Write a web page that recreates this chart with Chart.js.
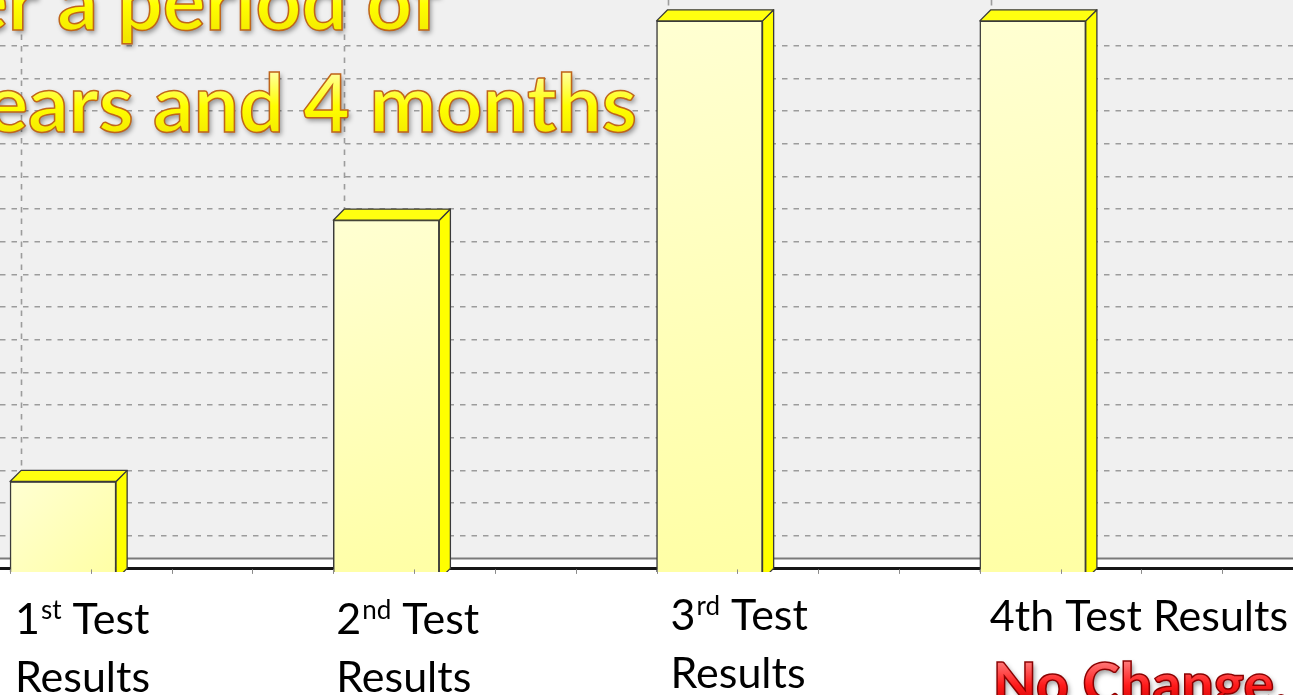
<!DOCTYPE html>
<html>
<head>
<meta charset="utf-8">
<title>Test Results</title>
<script src="https://cdn.jsdelivr.net/npm/chart.js@4.4.1/dist/chart.umd.min.js"></script>
<style>
  html, body { margin: 0; padding: 0; background: #fff; overflow: hidden; }
  #wrap { position: relative; width: 1293px; height: 695px; }
</style>
</head>
<body>
<div id="wrap"><canvas id="testChart" width="1293" height="695"></canvas></div>
<script>
/* ---------- data ---------- */
const categories = ['1st Test Results', '2nd Test Results', '3rd Test Results', '4th Test Results'];
const testScores = [3, 11, 17.1, 17.1];
const titleLines = ['er a period of', 'ears and 4 months'];
const noteText = 'No Change.';
const gridMax = 17.4;
const gridStep = 1;

/* ---------- look ---------- */
const BAR_WIDTH = 106;
const DEPTH = 0.34;              // 3D depth, in value units
const X_MIN = -0.195, X_MAX = 3.805;
const PLOT_BG = '#f0f0f0';
const GRID_COLOR = '#9c9c9c';
const GRID_DASH = [5.5, 6];
const FLOOR_GAP = 10;
const LABEL_FONT = '43px Lato';
const SUP_FONT = '26px Lato';
const LABEL_DX = [5, 3, 14, 10];       // from bar front-left edge
const LABEL_BASE = [634, 634, 630, 631];
const LABEL_LINE = 58;
const wrapLabel = [true, true, true, false];

function frontFill(ctx) {
  const chart = ctx.chart;
  if (!chart.chartArea || !ctx.raw) return '#ffffb8';
  const xs = chart.scales.x, ys = chart.scales.y;
  const cx = xs.getPixelForValue(ctx.raw.x);
  const top = ys.getPixelForValue(ctx.raw.y);
  const bottom = ys.getPixelForValue(0);
  const g = chart.ctx.createLinearGradient(cx - BAR_WIDTH / 2, top, cx + BAR_WIDTH / 2, bottom);
  g.addColorStop(0, '#ffffd2');
  g.addColorStop(1, '#ffffa4');
  return g;
}

function drawFancyText(ctx, text, x, y, o) {
  ctx.save();
  ctx.font = o.font;
  ctx.textAlign = o.align || 'left';
  ctx.textBaseline = 'alphabetic';
  ctx.shadowColor = 'rgba(0,0,0,0.4)';
  ctx.shadowBlur = 5;
  ctx.shadowOffsetX = 2;
  ctx.shadowOffsetY = 3;
  const g = ctx.createLinearGradient(0, y - o.size * 0.75, 0, y + o.size * 0.1);
  o.stops.forEach((c, i) => g.addColorStop(i / (o.stops.length - 1), c));
  ctx.fillStyle = g;
  ctx.fillText(text, x, y);
  ctx.shadowColor = 'transparent';
  ctx.lineWidth = o.strokeWidth;
  ctx.strokeStyle = o.stroke;
  ctx.strokeText(text, x, y);
  ctx.restore();
}

function drawLabel(ctx, label, x, y, wrap) {
  const m = label.match(/^(\d+)(st|nd|rd|th) (.*)$/);
  ctx.save();
  ctx.fillStyle = '#000';
  ctx.textBaseline = 'alphabetic';
  ctx.textAlign = 'left';
  ctx.font = LABEL_FONT;
  if (!wrap) {
    ctx.fillText(label, x, y);
    ctx.restore();
    return;
  }
  const words = m[3].split(' ');
  ctx.fillText(m[1], x, y);
  let cx = x + ctx.measureText(m[1]).width;
  ctx.font = SUP_FONT;
  ctx.fillText(m[2], cx + 1, y - 15);
  cx += ctx.measureText(m[2]).width + 1;
  ctx.font = LABEL_FONT;
  ctx.fillText(' ' + words[0], cx, y);
  ctx.fillText(words.slice(1).join(' '), x, y + LABEL_LINE);
  ctx.restore();
}

const bar3d = {
  id: 'bar3d',
  beforeDraw(chart) {
    const { ctx, scales } = chart;
    const zeroY = scales.yGrid.getPixelForValue(0);
    ctx.save();
    ctx.fillStyle = '#ffffff';
    ctx.fillRect(0, 0, chart.width, chart.height);
    ctx.fillStyle = PLOT_BG;
    ctx.fillRect(0, 0, chart.width, zeroY - FLOOR_GAP);
    ctx.restore();
  },
  beforeDatasetsDraw(chart) {
    const { ctx, scales } = chart;
    const meta = chart.getDatasetMeta(0);
    const zeroY = scales.yGrid.getPixelForValue(0);
    const d = scales.y.getPixelForValue(0) - zeroY;
    ctx.save();
    // back-wall vertical gridlines
    ctx.strokeStyle = GRID_COLOR;
    ctx.lineWidth = 1.6;
    ctx.setLineDash(GRID_DASH);
    meta.data.forEach(bar => {
      const x = Math.round(bar.x - bar.width / 2 + d) + 0.5;
      ctx.beginPath();
      ctx.moveTo(x, 0);
      ctx.lineTo(x, zeroY - FLOOR_GAP);
      ctx.stroke();
    });
    ctx.setLineDash([]);
    // floor edges
    ctx.strokeStyle = '#7a7a7a';
    ctx.lineWidth = 2;
    ctx.beginPath();
    ctx.moveTo(0, zeroY - FLOOR_GAP);
    ctx.lineTo(chart.width, zeroY - FLOOR_GAP);
    ctx.stroke();
    ctx.strokeStyle = '#161616';
    ctx.lineWidth = 3;
    ctx.beginPath();
    ctx.moveTo(0, zeroY);
    ctx.lineTo(chart.width, zeroY);
    ctx.stroke();
    ctx.restore();
  },
  afterDatasetsDraw(chart) {
    const { ctx, scales } = chart;
    const meta = chart.getDatasetMeta(0);
    const zeroY = scales.yGrid.getPixelForValue(0);
    const d = scales.y.getPixelForValue(0) - zeroY;
    ctx.save();
    ctx.lineJoin = 'round';
    meta.data.forEach(bar => {
      const left = bar.x - bar.width / 2, right = bar.x + bar.width / 2;
      const top = bar.y, bottom = bar.base;
      // side face
      ctx.beginPath();
      ctx.moveTo(right, top);
      ctx.lineTo(right + d, top - d);
      ctx.lineTo(right + d, bottom - d);
      ctx.lineTo(right, bottom);
      ctx.closePath();
      ctx.fillStyle = '#ffff00';
      ctx.fill();
      ctx.strokeStyle = '#3a3a3a';
      ctx.lineWidth = 1.3;
      ctx.stroke();
      // top face
      ctx.beginPath();
      ctx.moveTo(left, top);
      ctx.lineTo(left + d, top - d);
      ctx.lineTo(right + d, top - d);
      ctx.lineTo(right, top);
      ctx.closePath();
      ctx.fillStyle = '#ffff10';
      ctx.fill();
      ctx.stroke();
    });

    // white label area under the floor
    const coverY = zeroY + 3.6;
    ctx.fillStyle = '#ffffff';
    ctx.fillRect(0, coverY, chart.width, chart.height - coverY);

    // small axis ticks
    const catW = scales.x.getPixelForValue(1) - scales.x.getPixelForValue(0);
    const first = meta.data[0].x - meta.data[0].width / 2;
    ctx.strokeStyle = '#8a8a8a';
    ctx.lineWidth = 1;
    for (let k = -1; k < 20; k++) {
      const x = Math.round(first + k * catW / 4) + 0.5;
      ctx.beginPath();
      ctx.moveTo(x, zeroY + 1);
      ctx.lineTo(x, zeroY + 5.5);
      ctx.stroke();
    }
    ctx.restore();

    // category labels
    meta.data.forEach((bar, i) => {
      const left = bar.x - bar.width / 2;
      drawLabel(ctx, categories[i], left + LABEL_DX[i], LABEL_BASE[i], wrapLabel[i]);
    });

    // note under the last label
    drawFancyText(ctx, noteText, meta.data[3].x - meta.data[3].width / 2 + 13, 704, {
      font: '900 57px Lato', size: 57, align: 'left',
      stops: ['#ff7a7a', '#ff1a1a', '#c00000'],
      stroke: '#8a0000', strokeWidth: 1.5
    });

    // overlaid title text
    drawFancyText(ctx, titleLines[0], 440, 30, {
      font: 'bold 80px Lato', size: 80, align: 'right',
      stops: ['#ffffa0', '#ffff00', '#f2e600'],
      stroke: '#c0651a', strokeWidth: 1.5
    });
    drawFancyText(ctx, titleLines[1], 637, 132, {
      font: 'bold 80px Lato', size: 80, align: 'right',
      stops: ['#ffffa0', '#ffff00', '#f2e600'],
      stroke: '#c0651a', strokeWidth: 1.5
    });
  }
};

new Chart(document.getElementById('testChart'), {
  type: 'bar',
  data: {
    datasets: [{
      label: 'Test Results',
      data: testScores.map((v, i) => ({ x: i, y: v })),
      backgroundColor: frontFill,
      borderColor: '#3a3a3a',
      borderWidth: 1.5,
      borderSkipped: false,
      barThickness: BAR_WIDTH,
      base: 0,
      clip: false,
      yAxisID: 'y'
    }]
  },
  options: {
    responsive: false,
    animation: false,
    layout: { padding: { left: 0, right: 0, top: 0, bottom: 126.6 } },
    plugins: { legend: { display: false }, tooltip: { enabled: false } },
    scales: {
      x: { type: 'linear', min: X_MIN, max: X_MAX, offset: false, display: false },
      y: { min: DEPTH, max: gridMax + DEPTH, display: false },
      yGrid: {
        position: 'left',
        min: 0,
        max: gridMax,
        ticks: { display: false, stepSize: gridStep },
        border: { display: false, dash: GRID_DASH },
        grid: {
          drawTicks: false,
          lineWidth: 1.6,
          color: c => (c.tick && c.tick.value > 0 && Number.isInteger(c.tick.value)) ? GRID_COLOR : 'transparent'
        }
      }
    }
  },
  plugins: [bar3d]
});
</script>
</body>
</html>
